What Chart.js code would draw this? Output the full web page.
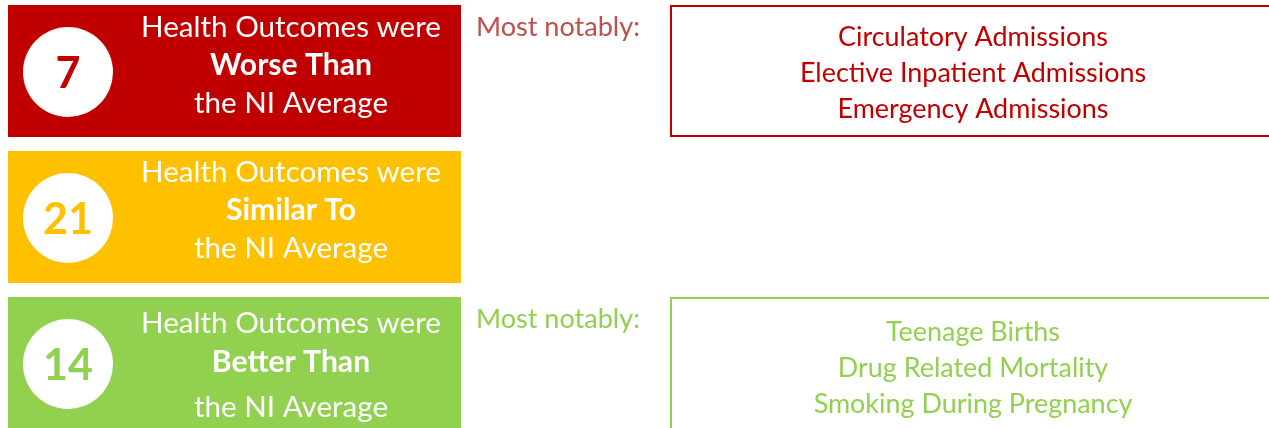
<!DOCTYPE html>
<html>
<head>
<meta charset="utf-8">
<script src="https://cdn.jsdelivr.net/npm/chart.js@4.4.0/dist/chart.umd.min.js"></script>
<style>
  html, body { margin: 0; padding: 0; background: #fff; overflow: hidden; }
  #wrap { position: relative; width: 1269px; height: 428px; overflow: hidden; }
  #wrap canvas { position: absolute; left: 0; top: -2px; }
</style>
</head>
<body>
<div id="wrap"><canvas id="myChart" width="1269" height="438"></canvas></div>
<script>
// data
const categories = ['Worse Than', 'Similar To', 'Better Than'];
const counts = [7, 21, 14];
const headline = 'Health Outcomes were';
const tailline = 'the NI Average';
const notableLabel = 'Most notably:';
const notableWorse = ['Circulatory Admissions', 'Elective Inpatient Admissions', 'Emergency Admissions'];
const notableSimilar = [];
const notableBetter = ['Teenage Births', 'Drug Related Mortality', 'Smoking During Pregnancy'];
const notables = [notableWorse, notableSimilar, notableBetter];

// styles
const boxColours = ['#C00000', '#FFC000', '#92D050'];
const labelColours = ['#C0504D', '#FFC000', '#92D050'];
const FONT = 'Lato, "Open Sans", sans-serif';

// fit a font size so that text hits a target width
function fitFont(ctx, text, weight, target) {
    ctx.font = weight + ' 40px ' + FONT;
    const w = ctx.measureText(text).width;
    return 40 * target / w;
}

const infoPlugin = {
    id: 'info',
    afterDatasetsDraw(chart) {
        const ctx = chart.ctx;
        const left = chart.getDatasetMeta(0).data;
        const right = chart.getDatasetMeta(1).data;
        const headSize = fitFont(ctx, headline, 'normal', 300);
        const boldSize = fitFont(ctx, categories[0], 'bold', 162);
        const numSize = 43;
        const listSize = fitFont(ctx, notableWorse[0], 'normal', 270);
        const noteSize = fitFont(ctx, notableLabel, 'normal', 164);
        // per-row baseline offsets (relative to the box centre)
        const textOffsets = [[-34, 4, 42], [-35, 3, 41], [-30, 9, 54]];
        const listOffsets = [[-25, 11, 47], [-25, 11, 47], [-22, 14, 50]];
        const noteOffsets = [-35, -35, -35];

        ctx.save();
        categories.forEach((cat, i) => {
            const bar = left[i];
            const x0 = Math.min(bar.x, bar.base);
            const cy = bar.y;

            // white circle with the count
            ctx.fillStyle = '#fff';
            ctx.beginPath();
            ctx.arc(x0 + 60, cy + 1, 45, 0, Math.PI * 2);
            ctx.fill();
            ctx.fillStyle = boxColours[i];
            ctx.textAlign = 'center';
            ctx.textBaseline = 'alphabetic';
            ctx.font = 'bold ' + numSize + 'px ' + FONT;
            ctx.fillText(String(counts[i]), x0 + 60, cy + 17);

            // headline text
            const tx = x0 + 283;
            const off = textOffsets[i];
            ctx.fillStyle = '#fff';
            ctx.font = 'normal ' + headSize + 'px ' + FONT;
            ctx.fillText(headline, tx, cy + off[0]);
            ctx.font = 'bold ' + boldSize + 'px ' + FONT;
            ctx.fillText(cat, tx, cy + off[1]);
            ctx.font = 'normal ' + headSize + 'px ' + FONT;
            ctx.fillText(tailline, tx, cy + off[2]);

            // notable items
            const list = notables[i];
            const rb = right[i];
            if (list.length && rb) {
                const rx0 = Math.min(rb.x, rb.base);
                ctx.textAlign = 'left';
                ctx.fillStyle = labelColours[i];
                ctx.font = 'normal ' + noteSize + 'px ' + FONT;
                ctx.fillText(notableLabel, 476, cy + noteOffsets[i]);
                ctx.textAlign = 'center';
                ctx.fillStyle = boxColours[i];
                ctx.font = 'normal ' + listSize + 'px ' + FONT;
                list.forEach((item, k) => {
                    ctx.fillText(item, rx0 + 303, cy + listOffsets[i][k]);
                });
            }
        });
        ctx.restore();
    }
};

const ctx = document.getElementById('myChart').getContext('2d');
const myChart = new Chart(ctx, {
    type: 'bar',
    data: {
        labels: categories,
        datasets: [{
            // the coloured count boxes
            data: categories.map(() => [8, 461]),
            backgroundColor: boxColours,
            borderWidth: 0,
            categoryPercentage: 0.904,
            barPercentage: 1
        }, {
            // outlined "most notably" boxes
            data: notables.map(list => list.length ? [670, 1290] : null),
            backgroundColor: 'rgba(255,255,255,0)',
            borderColor: boxColours,
            borderWidth: 2,
            // last box runs off the bottom of the picture
            borderSkipped: c => c.dataIndex === categories.length - 1 ? 'bottom' : false,
            categoryPercentage: 0.904,
            barPercentage: 1,
            grouped: false
        }]
    },
    options: {
        indexAxis: 'y',
        responsive: false,
        animation: false,
        layout: { padding: 0 },
        plugins: {
            legend: { display: false },
            tooltip: { enabled: false },
            title: { display: false }
        },
        scales: {
            x: { type: 'linear', min: 0, max: 1269, display: false },
            y: { type: 'category', display: false, offset: true }
        }
    },
    plugins: [infoPlugin]
});
</script>
</body>
</html>
